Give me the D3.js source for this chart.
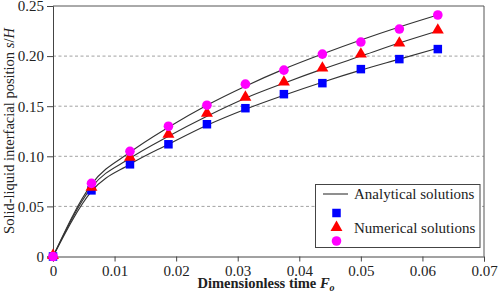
<!DOCTYPE html>
<html>
<head>
<meta charset="utf-8">
<script src="https://cdn.jsdelivr.net/npm/d3@7"></script>
</head>
<body style="margin:0;background:#fff">
<div id="chart"></div>
<script>
'use strict';

const width = 498,
    height = 294,
    margin = {top: 6, right: 14, bottom: 37.5, left: 53},
    serif = "Liberation Serif";

// dimensionless time Fo
const times = [0, 0.00625, 0.0125, 0.01875, 0.025, 0.03125, 0.0375, 0.04375, 0.05, 0.05625, 0.0625];

// analytical curves (s/H)
const analyticLow = [0, 0.065, 0.092, 0.112, 0.131, 0.147, 0.161, 0.174, 0.186, 0.197, 0.208];
const analyticMid = [0, 0.069, 0.098, 0.120, 0.140, 0.158, 0.173, 0.187, 0.200, 0.213, 0.225];
const analyticHigh = [0, 0.072, 0.104, 0.129, 0.151, 0.170, 0.187, 0.202, 0.216, 0.229, 0.241];

// numerical results
const numSquare = [0, 0.066, 0.092, 0.112, 0.132, 0.148, 0.162, 0.173, 0.187, 0.197, 0.207];
const numTriangle = [0, 0.068, 0.098, 0.121, 0.142, 0.158, 0.173, 0.187, 0.201, 0.212, 0.225];
const numCircle = [0, 0.073, 0.105, 0.130, 0.151, 0.172, 0.186, 0.202, 0.214, 0.227, 0.241];

const xTicks = [0, 0.01, 0.02, 0.03, 0.04, 0.05, 0.06, 0.07];
const yTicks = [0, 0.05, 0.10, 0.15, 0.20, 0.25];

const svg = d3.select("#chart")
    .append("svg")
    .attr("width", width)
    .attr("height", height)
    .style("display", "block");

const xScale = d3.scaleLinear()
    .domain([0, 0.07])
    .range([margin.left, width - margin.right]);
const yScale = d3.scaleLinear()
    .domain([0, 0.25])
    .range([height - margin.bottom, margin.top]);

// grid
svg.append("g")
    .selectAll("line")
    .data(yTicks.slice(1, 5))
    .join("line")
    .attr("x1", xScale(0))
    .attr("x2", xScale(0.07))
    .attr("y1", d => yScale(d))
    .attr("y2", d => yScale(d))
    .attr("stroke", "#8a8a8a")
    .attr("stroke-width", 0.8)
    .attr("stroke-dasharray", "3,2.5");

// frame top / right
svg.append("path")
    .attr("d", `M${xScale(0)},${yScale(0.25)}H${xScale(0.07)}V${yScale(0)}`)
    .attr("fill", "none")
    .attr("stroke", "#555")
    .attr("stroke-width", 1);

const fmt = d => d === 0 ? "0" : d3.format(".2f")(d);

const gx = svg.append("g")
    .attr("transform", `translate(0,${yScale(0)})`)
    .call(d3.axisBottom(xScale).tickValues(xTicks).tickSize(5).tickPadding(4).tickFormat(fmt));
const gy = svg.append("g")
    .attr("transform", `translate(${xScale(0)},0)`)
    .call(d3.axisLeft(yScale).tickValues(yTicks).tickSize(6).tickPadding(3).tickFormat(fmt));

[gx, gy].forEach(g => {
    g.attr("font-family", null).attr("font-size", null);
    g.select(".domain").attr("stroke", "#444");
    g.selectAll(".tick line").attr("stroke", "#444");
    g.selectAll(".tick text")
        .style("font-family", serif)
        .style("font-size", "15px")
        .attr("fill", "#222");
});

// axis titles
const xTitle = svg.append("text")
    .attr("x", 266)
    .attr("y", 288)
    .attr("text-anchor", "middle")
    .style("font-family", serif)
    .style("font-size", "14.5px")
    .style("font-weight", "bold")
    .attr("fill", "#222");
xTitle.append("tspan").text("Dimensionless time ");
xTitle.append("tspan").style("font-style", "italic").text("F");
xTitle.append("tspan").style("font-style", "italic").style("font-size", "10px").attr("dy", 3).text("o");

const yTitle = svg.append("text")
    .attr("transform", `translate(14,131) rotate(-90)`)
    .attr("text-anchor", "middle")
    .style("font-family", serif)
    .style("font-size", "14.5px")
    .attr("fill", "#222");
yTitle.append("tspan").text("Solid-liquid interfacial position ");
yTitle.append("tspan").style("font-style", "italic").text("s");
yTitle.append("tspan").text("/");
yTitle.append("tspan").style("font-style", "italic").text("H");

// analytical lines
const line = d3.line()
    .x((d, i) => xScale(times[i]))
    .y(d => yScale(d))
    .curve(d3.curveMonotoneX);

svg.append("g")
    .selectAll("path")
    .data([analyticLow, analyticMid, analyticHigh])
    .join("path")
    .attr("d", line)
    .attr("fill", "none")
    .attr("stroke", "#333")
    .attr("stroke-width", 1.1);

// markers
const sq = 8.5;
svg.append("g")
    .selectAll("rect")
    .data(numSquare)
    .join("rect")
    .attr("x", (d, i) => xScale(times[i]) - sq / 2)
    .attr("y", d => yScale(d) - sq / 2)
    .attr("width", sq)
    .attr("height", sq)
    .attr("fill", "#0000ff");

const tri = d3.symbol().type(d3.symbolTriangle).size(62);
svg.append("g")
    .selectAll("path")
    .data(numTriangle)
    .join("path")
    .attr("d", tri)
    .attr("transform", (d, i) => `translate(${xScale(times[i])},${yScale(d) - 1})`)
    .attr("fill", "#ff0000");

svg.append("g")
    .selectAll("circle")
    .data(numCircle)
    .join("circle")
    .attr("cx", (d, i) => xScale(times[i]))
    .attr("cy", d => yScale(d))
    .attr("r", 4.8)
    .attr("fill", "#ff00ff");

// legend
const lg = svg.append("g");
lg.append("rect")
    .attr("x", 315.5)
    .attr("y", 184.5)
    .attr("width", 164.5)
    .attr("height", 63)
    .attr("fill", "#fff")
    .attr("stroke", "#444")
    .attr("stroke-width", 1);
lg.append("line")
    .attr("x1", 323).attr("x2", 348)
    .attr("y1", 194).attr("y2", 194)
    .attr("stroke", "#333")
    .attr("stroke-width", 1.1);
lg.append("text")
    .attr("x", 354).attr("y", 199)
    .style("font-family", serif)
    .style("font-size", "15px")
    .attr("fill", "#222")
    .text("Analytical solutions");
lg.append("rect")
    .attr("x", 336.5 - sq / 2).attr("y", 213 - sq / 2)
    .attr("width", sq).attr("height", sq)
    .attr("fill", "#0000ff");
lg.append("path")
    .attr("d", tri)
    .attr("transform", "translate(336.5,227.5)")
    .attr("fill", "#ff0000");
lg.append("circle")
    .attr("cx", 336.5).attr("cy", 241)
    .attr("r", 4.8)
    .attr("fill", "#ff00ff");
lg.append("text")
    .attr("x", 354).attr("y", 233)
    .style("font-family", serif)
    .style("font-size", "15px")
    .attr("fill", "#222")
    .text("Numerical solutions");
</script>
</body>
</html>
